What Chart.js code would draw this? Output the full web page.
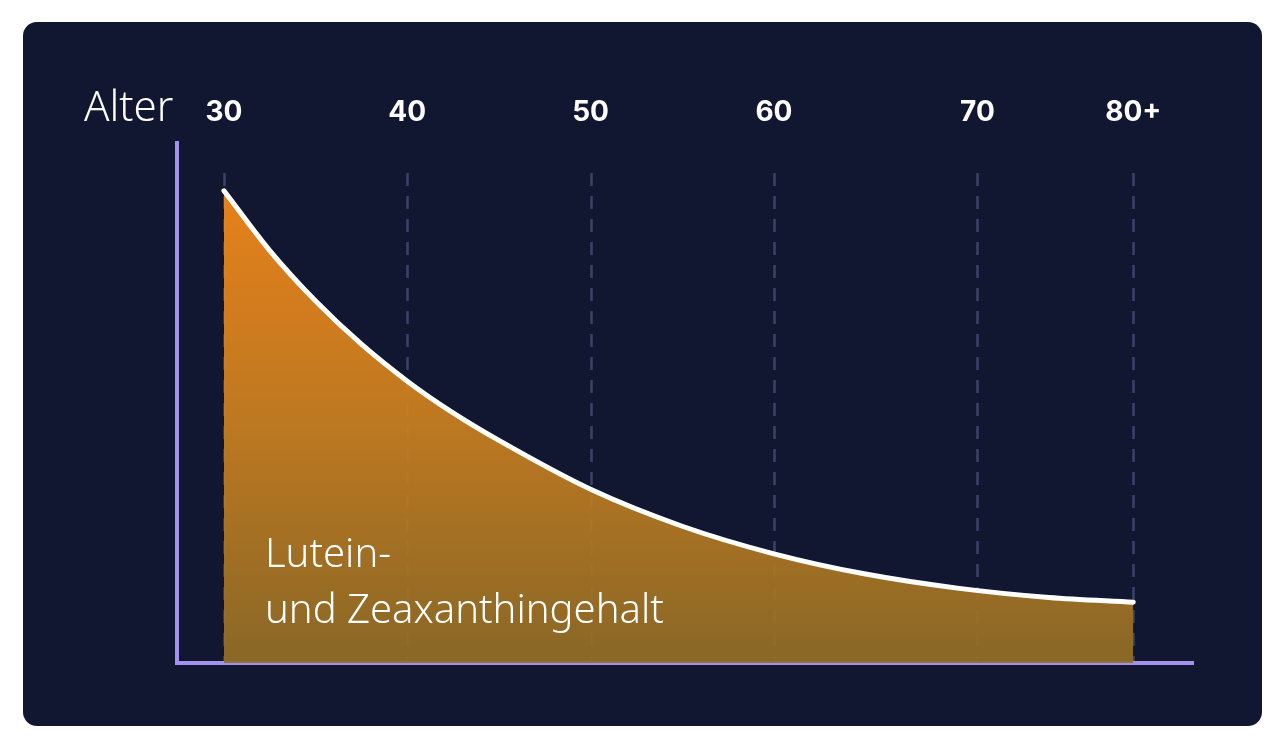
<!DOCTYPE html>
<html>
<head>
<meta charset="utf-8">
<script src="https://cdn.jsdelivr.net/npm/chart.js@4.4.1/dist/chart.umd.min.js"></script>
<style>
  html, body { margin: 0; padding: 0; background: #ffffff; width: 1284px; height: 749px; overflow: hidden; }
  #card { position: absolute; left: 23px; top: 22px; width: 1239px; height: 704px; border-radius: 14px; background: #111731; }
  #wrap { position: absolute; left: 0; top: 0; width: 1284px; height: 749px; }
  .hand { position: absolute; color: #ffffff; font-family: "Noto Sans", sans-serif; font-weight: 300; white-space: nowrap; }
  #alter { left: 84px; top: 84px; font-size: 42px; line-height: 42px; }
  #series { left: 265px; top: 524px; font-size: 40px; line-height: 56px; }
</style>
</head>
<body>
<div id="card"></div>
<div id="wrap"><canvas id="c" width="1284" height="749"></canvas></div>
<div class="hand" id="alter">Alter</div>
<div class="hand" id="series">Lutein-<br>und Zeaxanthingehalt</div>
<script>
// ---- data ----
const ages   = [30, 32.5, 35, 37.5, 40, 42.5, 45, 50, 55, 60, 65, 70, 75, 79.6];
const values = [90.8, 79.3, 69.6, 61.3, 54.2, 48.1, 42.8, 33.4, 26.3, 21.0, 17.1, 14.4, 12.6, 11.7];
const tickValues = [30, 40, 50, 60, 71.1, 79.6];
const tickLabels = ['30', '40', '50', '60', '70', '80+'];

const X_MIN = 27.44, X_MAX = 82.86;
const AXIS_COLOR = '#a291ee';

const gridPlugin = {
  id: 'dashedGrid',
  beforeDatasetsDraw(chart) {
    const { ctx, chartArea, scales } = chart;
    ctx.save();
    ctx.strokeStyle = 'rgba(150,160,220,0.32)';
    ctx.lineWidth = 2.5;
    ctx.setLineDash([13, 10]);
    tickValues.forEach(v => {
      const x = Math.round(scales.x.getPixelForValue(v)) + 0.5;
      ctx.beginPath();
      ctx.moveTo(x, chartArea.top + 30);
      ctx.lineTo(x, chartArea.bottom);
      ctx.stroke();
    });
    ctx.restore();
  }
};

const ctx = document.getElementById('c').getContext('2d');
new Chart(ctx, {
  type: 'line',
  data: {
    datasets: [{
      data: ages.map((a, i) => ({ x: a, y: values[i] })),
      borderColor: '#ffffff',
      borderWidth: 5,
      borderCapStyle: 'round',
      borderJoinStyle: 'round',
      pointRadius: 0,
      cubicInterpolationMode: 'monotone',
      fill: 'origin',
      backgroundColor: (context) => {
        const { chart } = context;
        const area = chart.chartArea;
        if (!area) return 'rgba(230,130,30,0.9)';
        const g = chart.ctx.createLinearGradient(0, area.top + 45, 0, area.bottom);
        g.addColorStop(0, 'rgba(247,137,26,0.93)');
        g.addColorStop(0.5, 'rgba(202,128,32,0.93)');
        g.addColorStop(1, 'rgba(146,110,38,0.93)');
        return g;
      }
    }]
  },
  options: {
    responsive: false,
    animation: false,
    layout: { padding: { left: 177, right: 91, top: 83, bottom: 86 } },
    plugins: { legend: { display: false }, tooltip: { enabled: false } },
    scales: {
      x: {
        type: 'linear', position: 'bottom', min: X_MIN, max: X_MAX,
        ticks: { display: false },
        grid: { display: false, drawTicks: false },
        border: { display: true, color: AXIS_COLOR, width: 4 },
        afterFit: (s) => { s.height = 0; }
      },
      xTop: {
        type: 'linear', position: 'top', min: X_MIN, max: X_MAX,
        afterBuildTicks: (s) => { s.ticks = tickValues.map(v => ({ value: v })); },
        ticks: {
          color: '#ffffff', padding: 14, maxRotation: 0, autoSkip: false,
          font: { family: 'Inter', size: 28, weight: '700' },
          callback: (val, idx) => tickLabels[idx]
        },
        grid: { display: false, drawTicks: false },
        border: { display: false },
        afterFit: (s) => { s.height = 60; }
      },
      y: {
        type: 'linear', min: 0, max: 100,
        ticks: { display: false },
        grid: { display: false, drawTicks: false },
        border: { display: true, color: AXIS_COLOR, width: 4 },
        afterFit: (s) => { s.width = 0; }
      }
    }
  },
  plugins: [gridPlugin]
});
</script>
</body>
</html>
